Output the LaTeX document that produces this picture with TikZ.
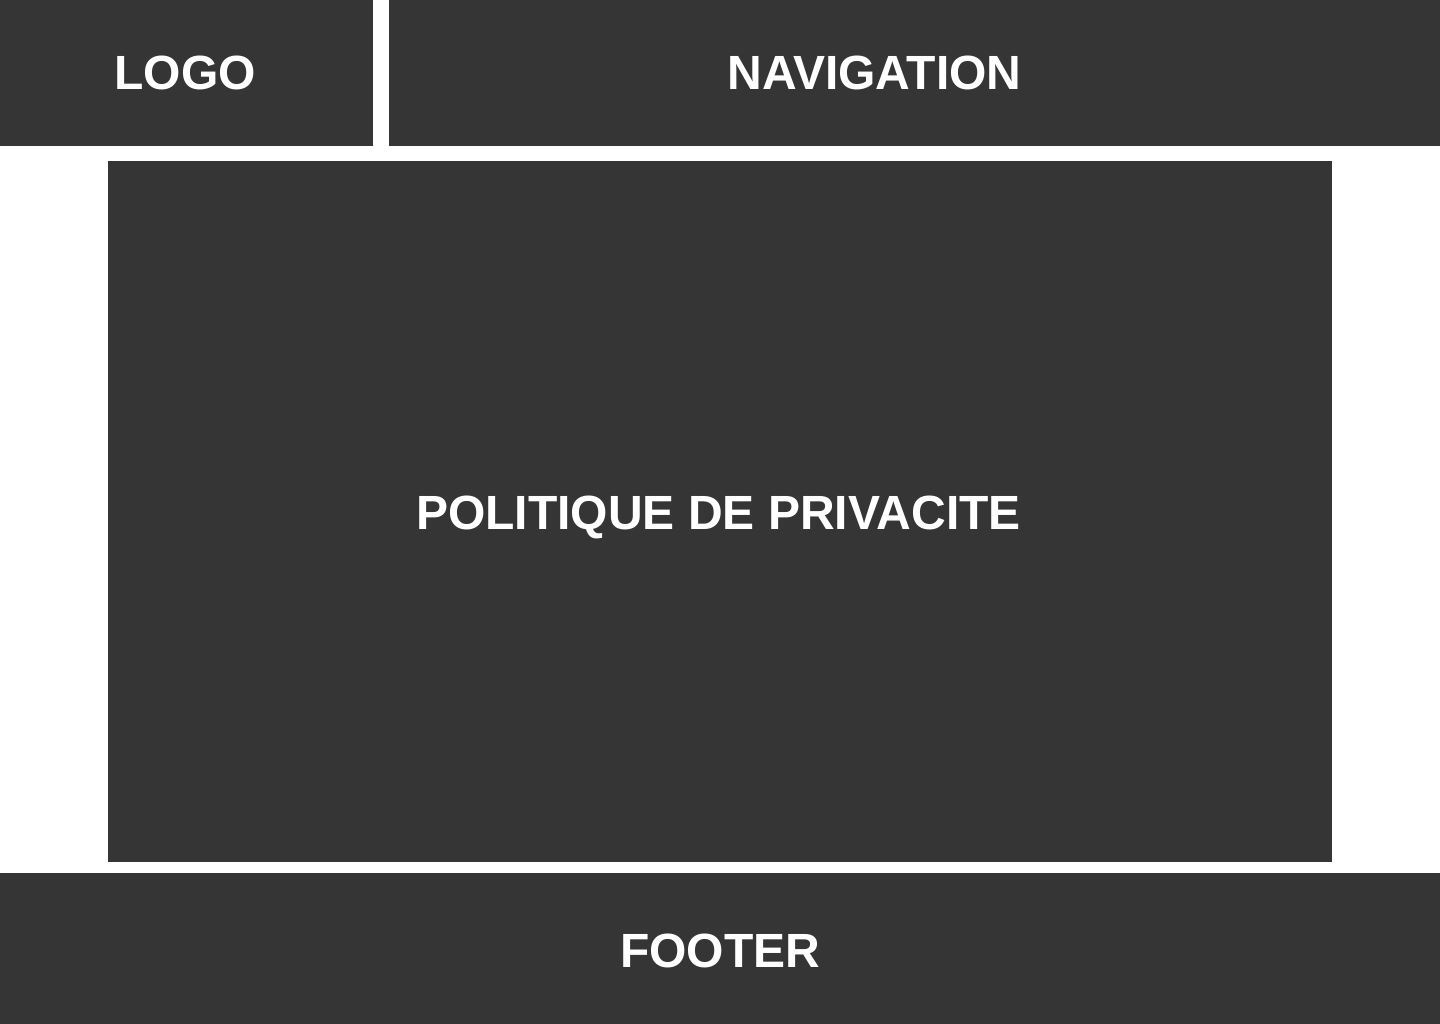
\documentclass[tikz,border=0pt]{standalone}
\usepackage{fontspec}
\setmainfont{Liberation Sans}
\definecolor{panel}{HTML}{353535}
\begin{document}
\begin{tikzpicture}[x=1pt,y=-1pt,
  panelbox/.style={fill=panel,draw=none},
  label/.style={text=white,font=\fontsize{48}{48}\selectfont\bfseries,anchor=base,inner sep=0pt}]
\useasboundingbox (0,0) rectangle (1440,1024);
\fill[white] (0,0) rectangle (1440,1024);
\path[panelbox] (0,0) rectangle (373,146) coordinate (logoBR);
\path[panelbox] (389,0) rectangle (1440,146);
\path[panelbox] (108,161) rectangle (1332,862);
\path[panelbox] (0,873) rectangle (1440,1024);
\node[label] (logo) at (185,90) {LOGO};
\node[label] (nav) at (874.5,90) {NAVIGATION};
\node[label] (main) at (718.5,529) {POLITIQUE DE PRIVACITE};
\node[label] (footer) at (720,967) {FOOTER};
\end{tikzpicture}
\end{document}
